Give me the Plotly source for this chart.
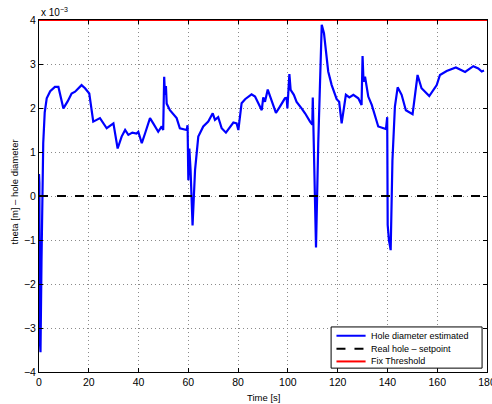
import plotly.graph_objects as go

# Time [s] and estimated hole diameter (units of 1e-3 m)
time_s = [0.0, 0.15, 0.35, 0.6, 1.0, 1.7, 2.3, 3.1, 4.5, 6.4, 7.8, 8.8, 9.8, 11.5, 13.1, 14.5, 16.0, 17.1, 18.5, 20.2,
          21.8, 24.5, 27.2, 29.2, 29.9, 31.6, 33.2, 34.6, 35.9, 37.5, 39.2, 39.9, 41.3, 42.6, 44.6, 45.9,
          47.9, 49.3, 49.9, 50.3, 50.6, 51.0, 51.3, 52.6, 55.3, 56.6, 59.3, 59.7, 60.0, 60.4, 60.9, 61.7,
          62.7, 64.0, 66.0, 68.0, 69.8, 70.7, 72.0, 73.4, 75.1, 78.1, 79.4, 80.1, 81.4, 82.8, 85.4, 86.8,
          89.5, 90.1, 90.8, 91.9, 93.5, 95.2, 96.8, 98.8, 99.5, 99.8, 100.6, 101.1, 102.4, 103.5, 105.5,
          106.9, 108.9, 109.8, 110.0, 110.2, 111.3, 112.2, 113.6, 114.5, 116.2, 117.6, 119.6, 120.6,
          121.6, 123.3, 124.7, 126.3, 128.3, 129.6, 130.0, 130.4, 131.0, 132.3, 133.7, 136.3, 138.3,
          139.4, 139.9, 140.1, 140.6, 141.3, 142.0, 143.0, 144.1, 145.7, 147.4, 150.1, 152.1, 153.7,
          156.8, 159.8, 161.1, 163.8, 167.5, 171.2, 174.5, 176.5, 177.9, 178.8]
theta_est = [0.5, 0.3, -3.3, -3.55, -1.5, 1.2, 1.9, 2.22, 2.38, 2.48, 2.48, 2.25, 1.99, 2.15, 2.33, 2.37, 2.45, 2.52, 2.45, 2.33,
             1.69, 1.77, 1.54, 1.61, 1.65, 1.08, 1.35, 1.5, 1.39, 1.44, 1.42, 1.46, 1.2, 1.42, 1.77, 1.65,
             1.46, 1.58, 1.5, 2.71, 2.3, 2.5, 2.1, 1.95, 1.77, 1.54, 1.5, 1.61, 0.36, 1.08, 0.59, -0.67,
             0.59, 1.35, 1.58, 1.69, 1.88, 1.73, 1.79, 1.54, 1.44, 1.67, 1.65, 1.5, 2.11, 2.2, 2.31, 2.26,
             1.95, 2.24, 2.14, 2.42, 2.14, 1.89, 2.03, 2.22, 2.23, 1.99, 2.77, 2.41, 2.3, 2.14, 1.99,
             1.88, 1.69, 1.62, 2.24, 1.65, -1.17, 1.2, 3.89, 3.7, 2.83, 2.52, 2.2, 2.14,
             1.65, 2.3, 2.24, 2.3, 2.22, 2.07, 3.18, 2.6, 2.71, 2.26, 2.07, 1.58, 1.54,
             1.52, 1.79, -0.66, -1.0, -1.23, 0.8, 2.03, 2.47, 2.3, 1.95, 1.86, 2.75, 2.45,
             2.27, 2.52, 2.75, 2.84, 2.92, 2.82, 2.95, 2.9, 2.83, 2.85]

setpoint_t = [0, 180]
setpoint_v = [0, 0]
threshold_t = [0, 180]
threshold_v = [4, 4]

x_ticks = [0, 20, 40, 60, 80, 100, 120, 140, 160, 180]
y_ticks = [-4, -3, -2, -1, 0, 1, 2, 3, 4]

series_names = ["Hole diameter estimated", "Real hole \u2013 setpoint", "Fix Threshold"]
series_colors = ["#0000ff", "black", "#ff0000"]
series_dash = ["solid", "dash", "solid"]

fig = go.Figure()
fig.add_trace(go.Scatter(x=time_s, y=theta_est, mode="lines", name=series_names[0],
                         line=dict(color=series_colors[0], width=2.2), showlegend=False))
fig.add_trace(go.Scatter(x=setpoint_t, y=setpoint_v, mode="lines", name=series_names[1],
                         line=dict(color=series_colors[1], width=2, dash="dash"), showlegend=False))
fig.add_trace(go.Scatter(x=threshold_t, y=threshold_v, mode="lines", name=series_names[2],
                         line=dict(color=series_colors[2], width=2), cliponaxis=False, showlegend=False))

axis_common = dict(showline=True, linecolor="black", linewidth=1, mirror="ticks",
                   ticks="inside", ticklen=4, tickcolor="black",
                   showgrid=True, gridcolor="#8a8a8a", griddash="1px,3px", gridwidth=1,
                   zeroline=False, tickfont=dict(size=10.5, color="black"),
                   automargin=False, ticklabeloverflow="allow")

fig.update_xaxes(range=[0, 180], tickvals=x_ticks, ticktext=[str(v) for v in x_ticks], **axis_common)
fig.update_yaxes(range=[-4, 4], tickvals=y_ticks,
                 ticktext=[("\u2212" + str(-v)) if v < 0 else str(v) for v in y_ticks],
                 **axis_common)

# axis titles
fig.add_annotation(text="Time [s]", xref="paper", yref="paper", x=0.5, y=0, yshift=-25,
                   xanchor="center", yanchor="middle", showarrow=False,
                   font=dict(size=9.5, color="black"))
fig.add_annotation(text="theta [m] \u2013 hole diameter", xref="paper", yref="paper", x=0, y=0.51,
                   xshift=-25, xanchor="center", yanchor="middle", textangle=-90, showarrow=False,
                   font=dict(size=9.5, color="black"))
# exponent label
fig.add_annotation(text="x 10<sup>\u22123</sup>", xref="paper", yref="paper", x=0, y=1.0,
                   xanchor="left", yanchor="bottom", showarrow=False,
                   font=dict(size=10, color="black"), yshift=0)

# legend box drawn in the MATLAB style
lx0, lx1, ly0, ly1 = 0.652, 0.989, 0.011, 0.128
fig.add_shape(type="rect", xref="paper", yref="paper", x0=lx0, x1=lx1, y0=ly0, y1=ly1,
              line=dict(color="black", width=1), fillcolor="white", layer="above")
row_y = [0.103, 0.066, 0.030]
for name, col, dsh, ry in zip(series_names, series_colors, series_dash, row_y):
    fig.add_shape(type="line", xref="paper", yref="paper", x0=0.664, x1=0.729, y0=ry, y1=ry,
                  line=dict(color=col, width=2, dash=dsh), layer="above")
    fig.add_annotation(text=name, xref="paper", yref="paper", x=0.737, y=ry,
                       xanchor="left", yanchor="middle", showarrow=False,
                       font=dict(size=9, color="black"))

fig.update_layout(
    width=492, height=404,
    margin=dict(l=39, r=5, t=20, b=32),
    paper_bgcolor="white", plot_bgcolor="white",
    font=dict(family="Liberation Sans, Arial, sans-serif", color="black"),
    showlegend=False,
)

fig.write_html("out.html", config={"displayModeBar": False},
               post_script="document.body.style.margin='0';document.body.style.overflow='hidden';")
